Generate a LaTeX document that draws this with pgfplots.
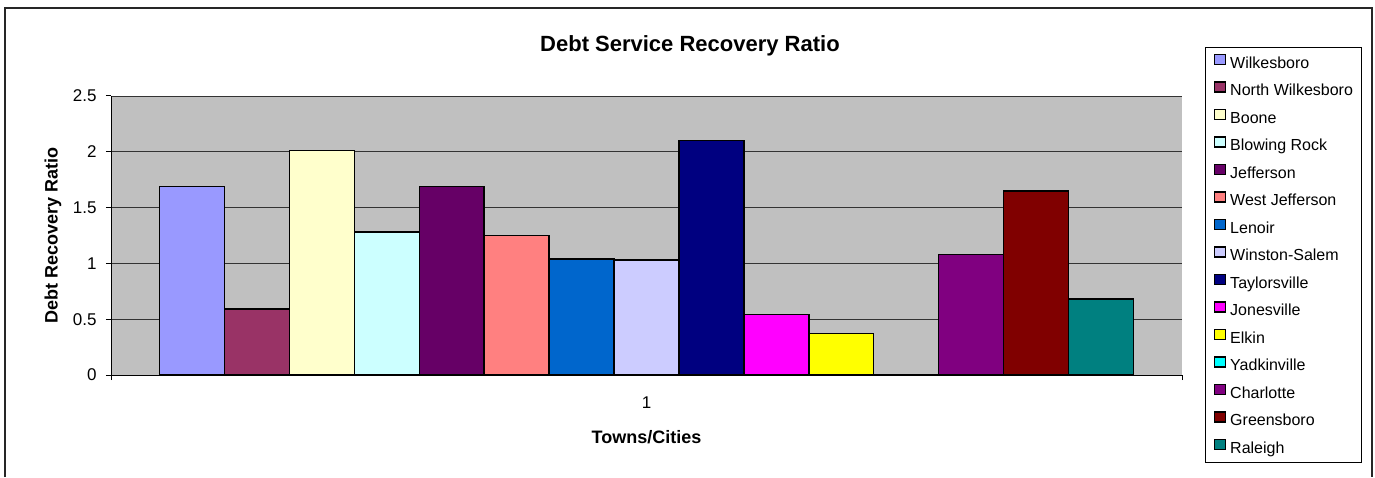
\documentclass[border=0pt]{standalone}
\usepackage{pgfplots}
\pgfplotsset{compat=1.18}
\usepackage{fontspec}
\setmainfont{Liberation Sans}
\definecolor{plotgray}{HTML}{C0C0C0}
\definecolor{c1}{HTML}{9999FF}
\definecolor{c2}{HTML}{993366}
\definecolor{c3}{HTML}{FFFFCC}
\definecolor{c4}{HTML}{CCFFFF}
\definecolor{c5}{HTML}{660066}
\definecolor{c6}{HTML}{FF8080}
\definecolor{c7}{HTML}{0066CC}
\definecolor{c8}{HTML}{CCCCFF}
\definecolor{c9}{HTML}{000080}
\definecolor{c10}{HTML}{FF00FF}
\definecolor{c11}{HTML}{FFFF00}
\definecolor{c12}{HTML}{00FFFF}
\definecolor{c13}{HTML}{800080}
\definecolor{c14}{HTML}{800000}
\definecolor{c15}{HTML}{008080}
\begin{document}
\begin{tikzpicture}
\path[use as bounding box] (0pt,0pt) rectangle (1375pt,477pt);
\draw[line width=1.5pt, black!85] (5pt,0pt) -- (5pt,469pt) -- (1372pt,469pt) -- (1372pt,0pt);
\begin{axis}[
  at={(111pt,102pt)}, anchor=south west,
  scale only axis, width=1071pt, height=279pt,
  ybar=0pt, bar width=64.93pt,
  xmin=0.5, xmax=1.5, ymin=0, ymax=2.5,
  axis background/.style={fill=plotgray},
  axis x line*=bottom, axis y line*=left,
  axis line style={black, line width=1pt, -},
  tick align=outside, major tick length=5pt,
  tick style={black, line width=1pt},
  ytick={0,0.5,1,1.5,2,2.5},
  yticklabels={0,0.5,1,1.5,2,2.5},
  ymajorgrids, major grid style={black!80, line width=0.8pt},
  xtick={0.5,1.5}, xticklabels={,},
  extra x ticks={1}, extra x tick labels={1},
  extra x tick style={major tick length=0pt, xticklabel style={yshift=-18pt}},
  ticklabel style={font=\fontsize{17}{19}\selectfont},
  yticklabel style={xshift=-6pt},
  title={Debt Service Recovery Ratio},
  title style={font=\bfseries\fontsize{22}{24}\selectfont, at={(axis description cs:0.5406,1.16)}, anchor=center},
  xlabel={Towns/Cities},
  xlabel style={font=\bfseries\fontsize{18}{20}\selectfont, at={(axis description cs:0.5,-0.222)}, anchor=center},
  ylabel={Debt Recovery Ratio},
  ylabel style={font=\bfseries\fontsize{18}{20}\selectfont, at={(axis description cs:-0.0542,0.5)}, anchor=center},
  legend cell align=left,
  legend image code/.code={\draw[#1, draw=black, line width=1.3pt] (0pt,0pt) rectangle (11pt,10pt);},
  legend style={at={(1.0215,1.1756)}, anchor=north west, draw=black, line width=0.8pt, fill=white,
    font=\fontsize{16}{18}\selectfont, row sep=10.1pt, column sep=4pt,
    inner xsep=8.5pt, inner ysep=6.5pt,
    nodes={inner sep=0pt, text height=10.5pt, text depth=3pt}},
]
\addplot[fill=c1, draw=black, line width=1.4pt] coordinates {(1,1.69)};
\addplot[fill=c2, draw=black, line width=1.4pt] coordinates {(1,0.59)};
\addplot[fill=c3, draw=black, line width=1.4pt] coordinates {(1,2.01)};
\addplot[fill=c4, draw=black, line width=1.4pt] coordinates {(1,1.28)};
\addplot[fill=c5, draw=black, line width=1.4pt] coordinates {(1,1.69)};
\addplot[fill=c6, draw=black, line width=1.4pt] coordinates {(1,1.25)};
\addplot[fill=c7, draw=black, line width=1.4pt] coordinates {(1,1.04)};
\addplot[fill=c8, draw=black, line width=1.4pt] coordinates {(1,1.03)};
\addplot[fill=c9, draw=black, line width=1.4pt] coordinates {(1,2.10)};
\addplot[fill=c10, draw=black, line width=1.4pt] coordinates {(1,0.54)};
\addplot[fill=c11, draw=black, line width=1.4pt] coordinates {(1,0.37)};
\addplot[fill=c12, draw=black, line width=1.4pt] coordinates {(1,0)};
\addplot[fill=c13, draw=black, line width=1.4pt] coordinates {(1,1.08)};
\addplot[fill=c14, draw=black, line width=1.4pt] coordinates {(1,1.65)};
\addplot[fill=c15, draw=black, line width=1.4pt] coordinates {(1,0.68)};
\legend{Wilkesboro,North Wilkesboro,Boone,Blowing Rock,Jefferson,West Jefferson,Lenoir,Winston-Salem,Taylorsville,Jonesville,Elkin,Yadkinville,Charlotte,Greensboro,Raleigh}
\end{axis}
\end{tikzpicture}
\end{document}
